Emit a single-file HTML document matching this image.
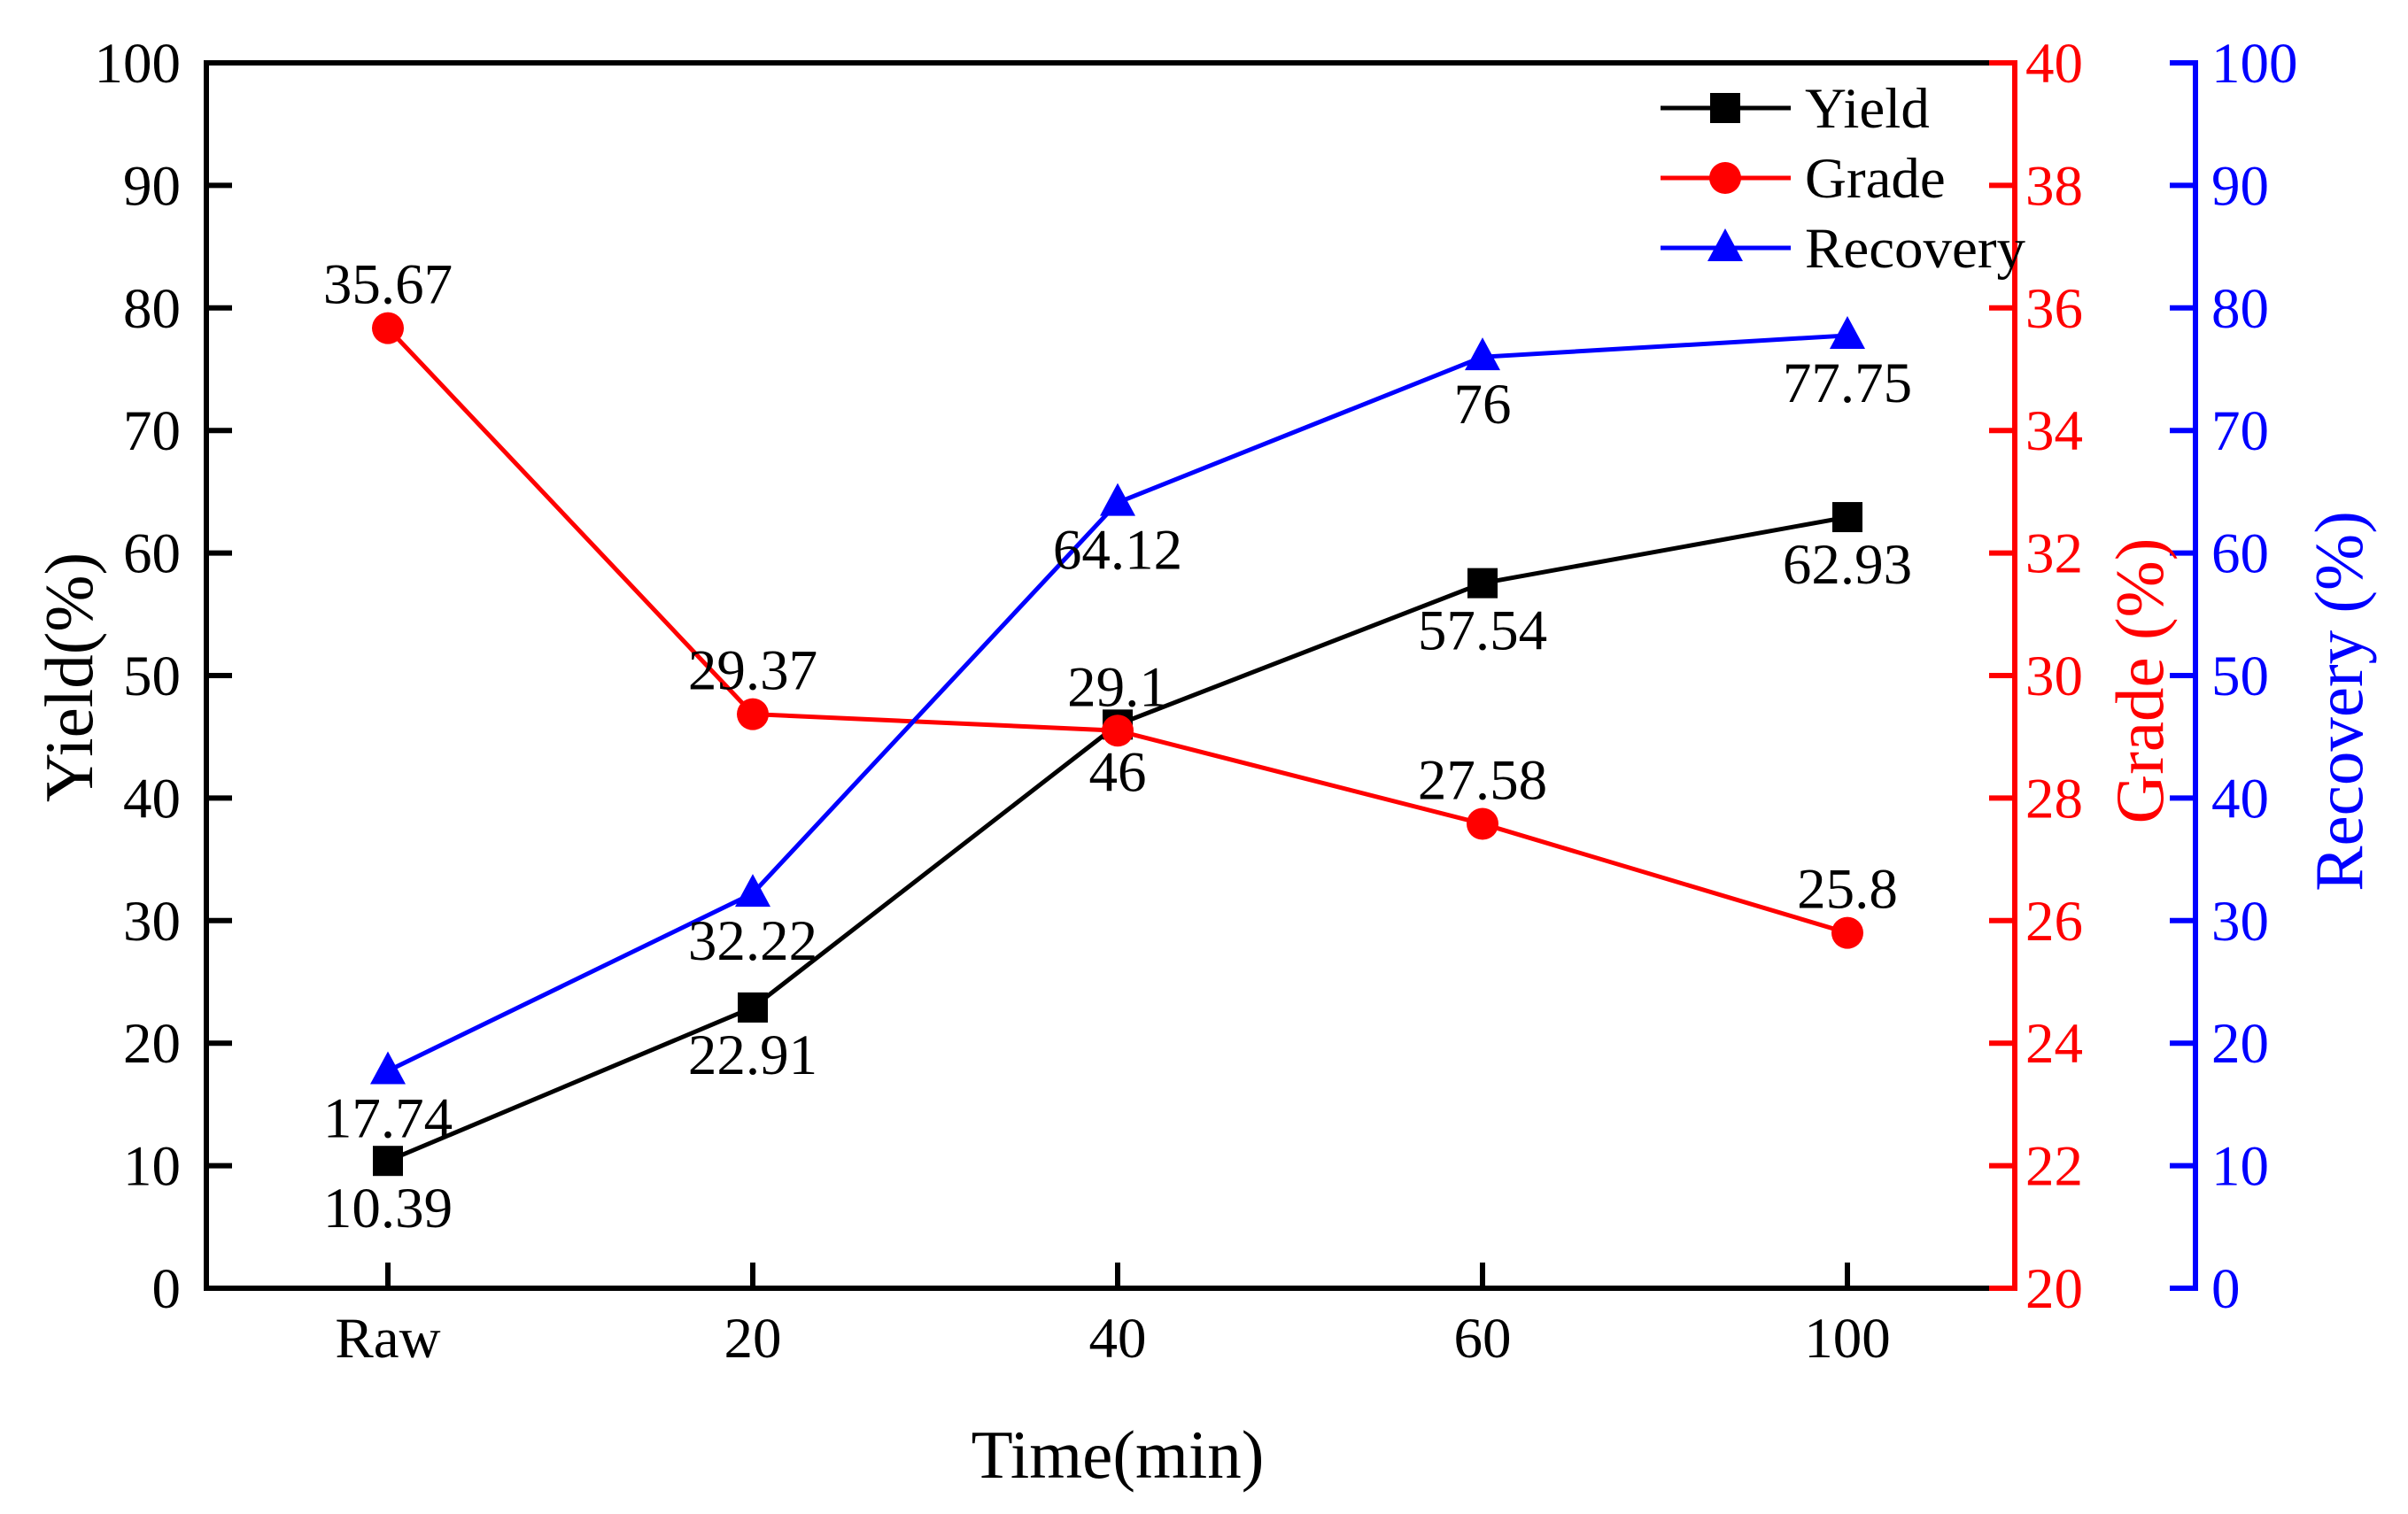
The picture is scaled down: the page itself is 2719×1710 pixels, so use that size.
<!DOCTYPE html>
<html><head><meta charset="utf-8"><style>
html,body{margin:0;padding:0;background:#fff;}
svg{display:block;font-family:"Liberation Serif",serif;}
</style></head><body>
<svg id="chart" width="2719" height="1710" viewBox="0 0 2719 1710" xmlns="http://www.w3.org/2000/svg"></svg>
<script>
const categories = ["Raw","20","40","60","100"];
const yieldValues = [10.39, 22.91, 46, 57.54, 62.93];
const gradeValues = [35.67, 29.37, 29.1, 27.58, 25.8];
const recoveryValues = [17.74, 32.22, 64.12, 76, 77.75];
const yieldTicks = [0,10,20,30,40,50,60,70,80,90,100];
const gradeTicks = [20,22,24,26,28,30,32,34,36,38,40];
const recoveryTicks = [0,10,20,30,40,50,60,70,80,90,100];

const NS = "http://www.w3.org/2000/svg";
const svg = document.getElementById('chart');
const L = 233, R = 2275, T = 71, B = 1455, BX = 2479;
const xPos = i => 438 + i * 412;
const yY = v => B - (v / 100) * (B - T);
const yG = v => B - ((v - 20) / 20) * (B - T);
const yR = v => B - (v / 100) * (B - T);

function mk(tag, attrs, parent) {
  const e = document.createElementNS(NS, tag);
  for (const k in attrs) e.setAttribute(k, attrs[k]);
  (parent || svg).appendChild(e);
  return e;
}
function txt(s, x, y, size, color, anchor, parent) {
  const t = mk('text', {x: x, y: y, 'font-size': size, fill: color, 'text-anchor': anchor}, parent);
  t.textContent = s;
  return t;
}

let e;
e = mk('line', {x1: L, y1: T, x2: R, y2: T, stroke: '#000', 'stroke-width': 6});


e = mk('line', {x1: L, y1: B, x2: R, y2: B, stroke: '#000', 'stroke-width': 6});


e = mk('line', {x1: L, y1: T - 3, x2: L, y2: B + 3, stroke: '#000', 'stroke-width': 6});


e = mk('line', {x1: R, y1: T - 3, x2: R, y2: B + 3, stroke: '#f00', 'stroke-width': 6});


e = mk('line', {x1: BX, y1: T - 3, x2: BX, y2: B + 3, stroke: '#00f', 'stroke-width': 6});



yieldTicks.forEach(v => {
  const y = yY(v);
  mk('line', {x1: L, y1: y, x2: L + 29, y2: y, stroke: '#000', 'stroke-width': 6});
  const t = txt(String(v), 204, y + 22, 65, '#000', 'end');
  
  
});
gradeTicks.forEach(v => {
  const y = yG(v);
  mk('line', {x1: R - 29, y1: y, x2: R, y2: y, stroke: '#f00', 'stroke-width': 6});
  const t = txt(String(v), 2287, y + 22, 65, '#f00', 'start');
  
  
});
recoveryTicks.forEach(v => {
  const y = yR(v);
  mk('line', {x1: BX - 29, y1: y, x2: BX, y2: y, stroke: '#00f', 'stroke-width': 6});
  const t = txt(String(v), 2497, y + 22, 65, '#00f', 'start');
  
  
});
categories.forEach((c, i) => {
  const x = xPos(i);
  mk('line', {x1: x, y1: B, x2: x, y2: B - 29, stroke: '#000', 'stroke-width': 6});
  const t = txt(c, x, 1533, 65, '#000', 'middle');
  
  
});

e = txt('Time(min)', 1262, 1669, 77, '#000', 'middle');


e = txt('Yield(%)', 0, 0, 77, '#000', 'middle');
e.setAttribute('transform', 'translate(104,765) rotate(-90)');


e = txt('Grade (%)', 0, 0, 77, '#f00', 'middle');
e.setAttribute('transform', 'translate(2442,769) rotate(-90)');


e = txt('Recovery (%)', 0, 0, 77, '#00f', 'middle');
e.setAttribute('transform', 'translate(2667,792) rotate(-90)');



function square(x, y, c, g) { return mk('rect', {x: x - 17, y: y - 17, width: 34, height: 34, fill: c}, g); }
function circle(x, y, c, g) { return mk('circle', {cx: x, cy: y, r: 18, fill: c}, g); }
function tri(x, y, c, g) { return mk('polygon', {points: `${x},${y - 22} ${x + 20},${y + 15} ${x - 20},${y + 15}`, fill: c}, g); }

function series(name, vals, yf, color, marker) {
  const g = mk('g', {});
  
  
  const pts = vals.map((v, i) => `${xPos(i)},${yf(v)}`).join(' ');
  const pl = mk('polyline', {points: pts, fill: 'none', stroke: color, 'stroke-width': 5}, g);
  
  
  vals.forEach((v, i) => {
    const m = marker(xPos(i), yf(v), color, g);
    
    
  });
  return g;
}
series('yield', yieldValues, yY, '#000', square);
series('grade', gradeValues, yG, '#f00', circle);
series('recovery', recoveryValues, yR, '#00f', tri);

yieldValues.forEach((v, i) => {
  const t = txt(String(v), xPos(i), yY(v) + 75, 65, '#000', 'middle');
  
  
});
gradeValues.forEach((v, i) => {
  const t = txt(String(v), xPos(i), yG(v) - 28, 65, '#000', 'middle');
  
  
});
recoveryValues.forEach((v, i) => {
  const t = txt(String(v), xPos(i), yR(v) + 75, 65, '#000', 'middle');
  
  
});

const legend = mk('g', {});


const legItems = [['Yield', '#000', square, 122], ['Grade', '#f00', circle, 201], ['Recovery', '#00f', tri, 280]];
legItems.forEach(it => {
  const g = mk('g', {}, legend);
  
  
  mk('line', {x1: 1875, y1: it[3], x2: 2022, y2: it[3], stroke: it[1], 'stroke-width': 5}, g);
  it[2](1948, it[3], it[1], g);
  txt(it[0], 2038, it[3] + 22, 65, '#000', 'start', g);
});
</script>
</body></html>
